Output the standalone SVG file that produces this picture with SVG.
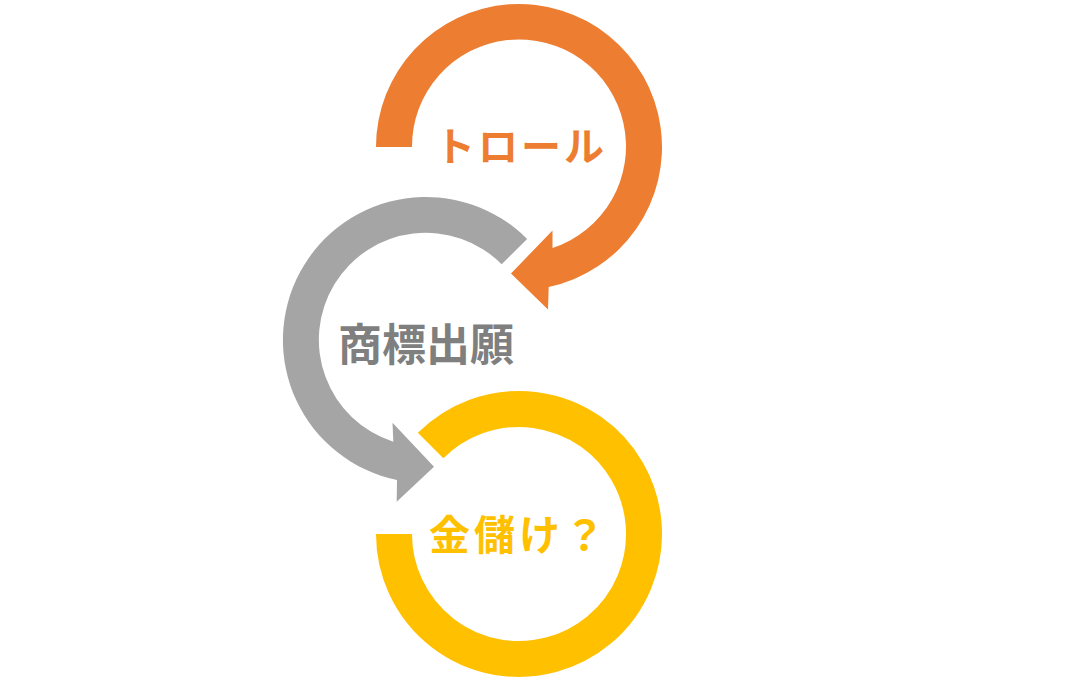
<svg xmlns="http://www.w3.org/2000/svg" width="1075" height="688" viewBox="0 0 1075 688">
<style>
.lbl{font-family:"Noto Sans CJK JP","Noto Sans",sans-serif;font-weight:700;text-anchor:middle;dominant-baseline:central}
</style>
<rect width="1075" height="688" fill="#ffffff"/>
<g id="connectors">
<path id="orange-arrow" fill="#ED7D31" d="M376,147 A143,143 0 1 1 548.7,286.9 L548,309.5 L511,273.5 L552.5,230.5 L552.5,248 A107,107 0 1 0 412,147 Z"/>
<path id="gray-arrow" fill="#A5A5A5" d="M527.1,238.9 A143,143 0 1 0 397,480 L396.7,501.7 L434,466.7 L392.5,422.7 L393.3,441.7 A107,107 0 1 1 501.7,264.3 Z"/>
<path id="yellow-arc" fill="none" stroke="#FFC000" stroke-width="36" d="M430.6,445.6 A125,125 0 1 1 394,534"/>
</g>
<g id="node-troll"><text class="lbl" x="521" y="144" font-size="40" fill="#ED7D31" letter-spacing="3">トロール</text></g>
<g id="node-trademark"><text class="lbl" x="426" y="342" font-size="44" fill="#7F7F7F">商標出願</text></g>
<g id="node-money"><text class="lbl" x="519" y="532" font-size="41" fill="#FFC000" letter-spacing="4">金儲け？</text></g>
</svg>
